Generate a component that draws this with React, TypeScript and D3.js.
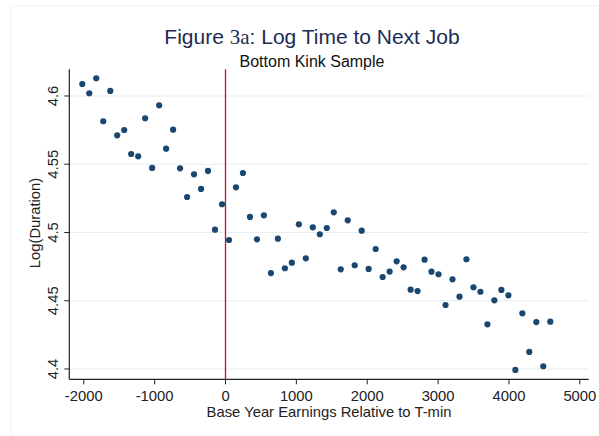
import React from "react";
import * as d3 from "d3";

// Binned base-year earnings relative to T-min (bin means)
const earnings: number[] = [
  -2021, -1922, -1824, -1725, -1626, -1528, -1429, -1331, -1232, -1134,
  -1035, -936, -838, -739, -641, -542, -444, -345, -247, -148,
  -49, 49, 148, 246, 345, 444, 542, 641, 739, 838,
  936, 1035, 1133, 1232, 1331, 1429, 1528, 1626, 1725, 1823,
  1922, 2020, 2119, 2218, 2316, 2415, 2513, 2612, 2710, 2809,
  2907, 3006, 3105, 3203, 3302, 3400, 3499, 3597, 3696, 3794,
  3893, 3992, 4090, 4189, 4287, 4386, 4484, 4583,
];

// Mean log(duration) in each bin
const logDuration: number[] = [
  4.6088, 4.6020, 4.6130, 4.5815, 4.6037, 4.5712, 4.5751, 4.5575, 4.5558, 4.5837,
  4.5473, 4.5932, 4.5614, 4.5753, 4.5470, 4.5260, 4.5426, 4.5319, 4.5451, 4.5021,
  4.5207, 4.4945, 4.5331, 4.5436, 4.5114, 4.4950, 4.5126, 4.4703, 4.4955, 4.4738,
  4.4779, 4.5060, 4.4811, 4.5038, 4.4987, 4.5033, 4.5148, 4.4730, 4.5089, 4.4760,
  4.5013, 4.4733, 4.4879, 4.4674, 4.4714, 4.4789, 4.4745, 4.4581, 4.4571, 4.4801,
  4.4713, 4.4694, 4.4469, 4.4657, 4.4530, 4.4804, 4.4599, 4.4566, 4.4327, 4.4503,
  4.4579, 4.4540, 4.3993, 4.4408, 4.4125, 4.4344, 4.4020, 4.4347,
];

const xTicks: number[] = [-2000, -1000, 0, 1000, 2000, 3000, 4000, 5000];
const yTicks: number[] = [4.4, 4.45, 4.5, 4.55, 4.6];
const yTickLabels: string[] = ["4.4", "4.45", "4.5", "4.55", "4.6"];
const kinkAt = 0;

const W = 599;
const H = 436;
const plot = { left: 69.3, right: 588.7, top: 69.3, bottom: 379.3 };

const sans = "'Liberation Sans', Arial, Helvetica, sans-serif";
const navy = "#1a476f";
const axisColor = "#222222";
const gridColor = "#e6eef0";
const redLine = "#c8102e";
const labelSize = 14.8;

export default function App() {
  const x = d3.scaleLinear().domain([-2204, 5125]).range([plot.left, plot.right]);
  const y = d3.scaleLinear().domain([4.39245, 4.61956]).range([plot.bottom, plot.top]);

  const points = earnings.map((e, i) => ({ e, v: logDuration[i] }));

  return (
    <svg
      width={W}
      height={H}
      style={{ position: "absolute", left: 0, top: 0, background: "#ffffff" }}
      fontFamily={sans}
    >
      <rect x={0} y={0} width={W} height={H} fill="#ffffff" />
      {/* graph region frame */}
      <rect x={11} y={6} width={W + 20} height={H + 20} fill="none" stroke="#eef3f4" strokeWidth={1.2} />

      {/* titles */}
      <text x={312} y={43.5} textAnchor="middle" fontSize={21} fill="#1c2c55">
        Figure <tspan fontFamily="'Liberation Serif', 'Times New Roman', serif">3a</tspan>: Log Time to Next Job
      </text>
      <text x={312} y={66.5} textAnchor="middle" fontSize={16} fill="#111111">
        Bottom Kink Sample
      </text>

      {/* horizontal gridlines */}
      {yTicks.map((t) => (
        <line key={"g" + t} x1={plot.left} x2={plot.right} y1={y(t)} y2={y(t)} stroke={gridColor} strokeWidth={1.2} />
      ))}

      {/* kink line */}
      <line x1={x(kinkAt)} x2={x(kinkAt)} y1={plot.top} y2={plot.bottom} stroke={redLine} strokeWidth={1.3} />

      {/* markers */}
      {points.map((p, i) => (
        <circle key={i} cx={x(p.e)} cy={y(p.v)} r={3.1} fill={navy} />
      ))}

      {/* axes */}
      <line x1={plot.left} x2={plot.left} y1={plot.top} y2={plot.bottom} stroke={axisColor} strokeWidth={1.2} />
      <line x1={plot.left} x2={plot.right} y1={plot.bottom} y2={plot.bottom} stroke={axisColor} strokeWidth={1.2} />

      {xTicks.map((t) => (
        <g key={"x" + t}>
          <line x1={x(t)} x2={x(t)} y1={plot.bottom} y2={plot.bottom + 5} stroke={axisColor} strokeWidth={1} />
          <text x={x(t)} y={400.5} textAnchor="middle" fontSize={labelSize} fill="#222222">
            {t}
          </text>
        </g>
      ))}

      {yTicks.map((t, i) => (
        <g key={"y" + t}>
          <line x1={plot.left - 5} x2={plot.left} y1={y(t)} y2={y(t)} stroke={axisColor} strokeWidth={1} />
          <text
            transform={`translate(58.3,${y(t)}) rotate(-90)`}
            textAnchor="middle"
            fontSize={labelSize}
            fill="#222222"
          >
            {yTickLabels[i]}
          </text>
        </g>
      ))}

      {/* axis titles */}
      <text x={(plot.left + plot.right) / 2} y={417} textAnchor="middle" fontSize={labelSize} fill="#222222">
        Base Year Earnings Relative to T-min
      </text>
      <text transform="translate(39.5,223) rotate(-90)" textAnchor="middle" fontSize={labelSize} fill="#222222">
        Log(Duration)
      </text>
    </svg>
  );
}
